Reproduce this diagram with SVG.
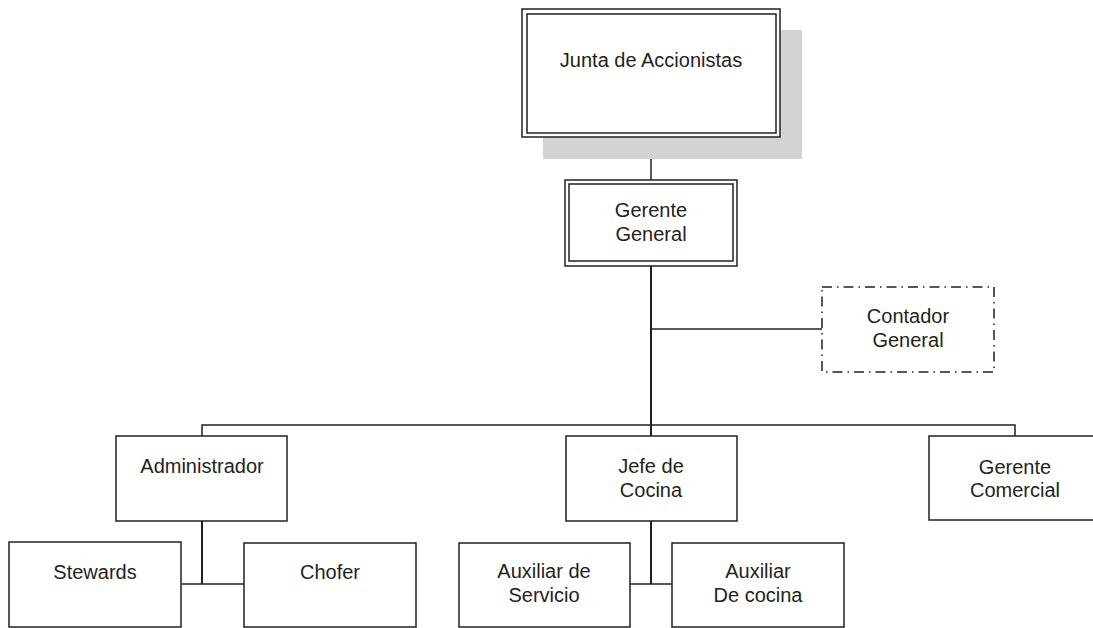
<svg xmlns="http://www.w3.org/2000/svg" width="1093" height="628" viewBox="0 0 1093 628">
<style>
.box{fill:#fff;stroke:#231f20;stroke-width:1.5}
.dbl{fill:none;stroke:#231f20;stroke-width:1.5}
.dash{fill:#fff;stroke:#231f20;stroke-width:1.5;stroke-dasharray:10 5 1.5 5}
.ln{fill:none;stroke:#231f20;stroke-width:1.5}
.trunk{fill:none;stroke:#231f20;stroke-width:2}
text{font-family:"Liberation Sans",Arial,sans-serif;font-size:20px;fill:#231f20;text-anchor:middle}
</style>
<rect width="1093" height="628" fill="#fff"/>
<g id="connectors">
<line class="ln" x1="651" y1="137" x2="651" y2="180"/>
<line class="trunk" x1="651" y1="266" x2="651" y2="436"/>
<line class="ln" x1="651" y1="329" x2="822" y2="329"/>
<polyline class="ln" points="202,436 202,425 1015,425 1015,436"/>
<line class="trunk" x1="202" y1="521" x2="202" y2="584"/>
<line class="ln" x1="181" y1="584" x2="244" y2="584"/>
<line class="trunk" x1="651" y1="521" x2="651" y2="584"/>
<line class="ln" x1="630" y1="584" x2="672" y2="584"/>
</g>
<g id="junta">
<rect x="543" y="30" width="259" height="129" fill="#d3d3d3"/>
<rect class="box" x="522" y="9" width="258" height="128"/>
<rect class="dbl" x="527" y="14" width="249" height="119"/>
<text x="651" y="67">Junta de Accionistas</text>
</g>
<g id="gerente-general">
<rect class="box" x="565" y="180" width="172" height="86"/>
<rect class="dbl" x="569" y="184" width="164" height="77"/>
<text x="651" y="217">Gerente</text>
<text x="651" y="241">General</text>
</g>
<g id="contador">
<rect class="dash" x="822" y="287" width="172" height="85"/>
<text x="908" y="323">Contador</text>
<text x="908" y="347">General</text>
</g>
<g id="administrador">
<rect class="box" x="116" y="436" width="171" height="85"/>
<text x="202" y="473">Administrador</text>
</g>
<g id="jefe-cocina">
<rect class="box" x="566" y="436" width="171" height="85"/>
<text x="651" y="473">Jefe de</text>
<text x="651" y="497">Cocina</text>
</g>
<g id="gerente-comercial">
<rect class="box" x="929" y="436" width="172" height="84"/>
<text x="1015" y="474">Gerente</text>
<text x="1015" y="497">Comercial</text>
</g>
<g id="stewards">
<rect class="box" x="9" y="542" width="172" height="85"/>
<text x="95" y="579">Stewards</text>
</g>
<g id="chofer">
<rect class="box" x="244" y="543" width="172" height="84"/>
<text x="330" y="579">Chofer</text>
</g>
<g id="aux-servicio">
<rect class="box" x="459" y="543" width="171" height="84"/>
<text x="544" y="578">Auxiliar de</text>
<text x="544" y="602">Servicio</text>
</g>
<g id="aux-cocina">
<rect class="box" x="672" y="543" width="172" height="84"/>
<text x="758" y="578">Auxiliar</text>
<text x="758" y="602">De cocina</text>
</g>
</svg>
